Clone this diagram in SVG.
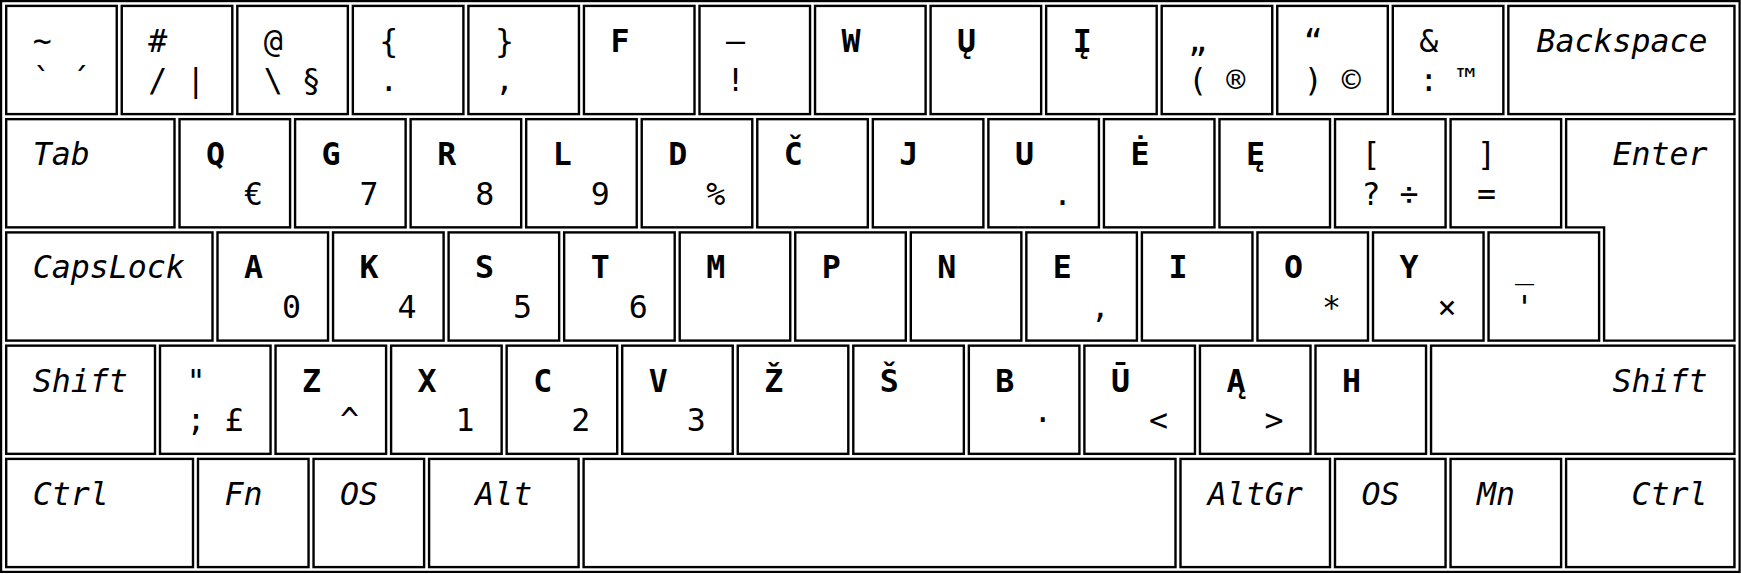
<svg xmlns="http://www.w3.org/2000/svg" width="1741" height="574" viewBox="0 0 1741 574">
<style>
.k{fill:#fff;stroke:#000;stroke-width:2.4}
.f{fill:none;stroke:#000;stroke-width:2.2}
text{font-family:"DejaVu Sans Mono","Liberation Mono",monospace;font-size:31.6px;fill:#000}
.b{font-weight:bold}
.i{font-style:italic}
.e{text-anchor:end}
.m{text-anchor:middle}
</style>
<rect width="1741" height="574" fill="#fff"/>
<rect class="f" x="1.1" y="1.1" width="1738.5" height="570.8"/>
<g id="row1">
<g id="k-tilde"><rect class="k" x="6.2" y="5.9" width="110.55" height="108.2"/><text x="32.7" y="51.9">~</text><text x="32.7" y="91.4">`</text><text x="70.7" y="91.4">´</text></g>
<g id="k-hash"><rect class="k" x="121.75" y="5.9" width="110.55" height="108.2"/><text x="148.25" y="51.9">#</text><text x="148.25" y="91.4">/</text><text x="186.25" y="91.4">|</text></g>
<g id="k-at"><rect class="k" x="237.3" y="5.9" width="110.55" height="108.2"/><text x="263.8" y="51.9">@</text><text x="263.8" y="91.4">\</text><text x="301.8" y="91.4">§</text></g>
<g id="k-lbrace"><rect class="k" x="352.85" y="5.9" width="110.55" height="108.2"/><text x="379.35" y="51.9">{</text><text x="379.35" y="91.4">.</text></g>
<g id="k-rbrace"><rect class="k" x="468.4" y="5.9" width="110.55" height="108.2"/><text x="494.9" y="51.9">}</text><text x="494.9" y="91.4">,</text></g>
<g id="k-F"><rect class="k" x="583.95" y="5.9" width="110.55" height="108.2"/><text class="b" x="610.45" y="51.9">F</text></g>
<g id="k-dash"><rect class="k" x="699.5" y="5.9" width="110.55" height="108.2"/><text x="726" y="51.9">–</text><text x="726" y="91.4">!</text></g>
<g id="k-W"><rect class="k" x="815.05" y="5.9" width="110.55" height="108.2"/><text class="b" x="841.55" y="51.9">W</text></g>
<g id="k-U-ogonek"><rect class="k" x="930.6" y="5.9" width="110.55" height="108.2"/><text class="b" x="957.1" y="51.9">Ų</text></g>
<g id="k-I-ogonek"><rect class="k" x="1046.15" y="5.9" width="110.55" height="108.2"/><text class="b" x="1072.65" y="51.9">Į</text></g>
<g id="k-lquote"><rect class="k" x="1161.7" y="5.9" width="110.55" height="108.2"/><text x="1188.2" y="51.9">„</text><text x="1188.2" y="91.4">(</text><text x="1226.2" y="91.4">®</text></g>
<g id="k-rquote"><rect class="k" x="1277.25" y="5.9" width="110.55" height="108.2"/><text x="1303.75" y="51.9">“</text><text x="1303.75" y="91.4">)</text><text x="1341.75" y="91.4">©</text></g>
<g id="k-amp"><rect class="k" x="1392.8" y="5.9" width="110.55" height="108.2"/><text x="1419.3" y="51.9">&amp;</text><text x="1419.3" y="91.4">:</text><text x="1457.3" y="91.4">™</text></g>
<g id="k-backspace"><rect class="k" x="1508.35" y="5.9" width="226.1" height="108.2"/><text class="i e" x="1707.6" y="51.9">Backspace</text></g>
</g>
<g id="row2">
<g id="k-tab"><rect class="k" x="6.2" y="119.15" width="168.3" height="108.2"/><text class="i" x="32.7" y="165.15">Tab</text></g>
<g id="k-Q"><rect class="k" x="179.53" y="119.15" width="110.55" height="108.2"/><text class="b" x="206.03" y="165.15">Q</text><text x="244.03" y="204.65">€</text></g>
<g id="k-G"><rect class="k" x="295.08" y="119.15" width="110.55" height="108.2"/><text class="b" x="321.58" y="165.15">G</text><text x="359.58" y="204.65">7</text></g>
<g id="k-R"><rect class="k" x="410.63" y="119.15" width="110.55" height="108.2"/><text class="b" x="437.13" y="165.15">R</text><text x="475.13" y="204.65">8</text></g>
<g id="k-L"><rect class="k" x="526.18" y="119.15" width="110.55" height="108.2"/><text class="b" x="552.68" y="165.15">L</text><text x="590.68" y="204.65">9</text></g>
<g id="k-D"><rect class="k" x="641.73" y="119.15" width="110.55" height="108.2"/><text class="b" x="668.23" y="165.15">D</text><text x="706.23" y="204.65">%</text></g>
<g id="k-C-caron"><rect class="k" x="757.28" y="119.15" width="110.55" height="108.2"/><text class="b" x="783.78" y="165.15">Č</text></g>
<g id="k-J"><rect class="k" x="872.83" y="119.15" width="110.55" height="108.2"/><text class="b" x="899.33" y="165.15">J</text></g>
<g id="k-U"><rect class="k" x="988.38" y="119.15" width="110.55" height="108.2"/><text class="b" x="1014.88" y="165.15">U</text><text x="1052.88" y="204.65">.</text></g>
<g id="k-E-dot"><rect class="k" x="1103.93" y="119.15" width="110.55" height="108.2"/><text class="b" x="1130.43" y="165.15">Ė</text></g>
<g id="k-E-ogonek"><rect class="k" x="1219.48" y="119.15" width="110.55" height="108.2"/><text class="b" x="1245.98" y="165.15">Ę</text></g>
<g id="k-lbracket"><rect class="k" x="1335.03" y="119.15" width="110.55" height="108.2"/><text x="1361.53" y="165.15">[</text><text x="1361.53" y="204.65">?</text><text x="1399.53" y="204.65">÷</text></g>
<g id="k-rbracket"><rect class="k" x="1450.58" y="119.15" width="110.55" height="108.2"/><text x="1477.08" y="165.15">]</text><text x="1477.08" y="204.65">=</text></g>
<g id="k-enter"><path class="k" d="M1566.13,119.15 H1734.45 V340.6 H1604.1 V227.35 H1566.13 Z"/><text class="i e" x="1707.6" y="165.15">Enter</text></g>
</g>
<g id="row3">
<g id="k-caps"><rect class="k" x="6.2" y="232.4" width="206.3" height="108.2"/><text class="i" x="32.7" y="278.4">CapsLock</text></g>
<g id="k-A"><rect class="k" x="217.5" y="232.4" width="110.55" height="108.2"/><text class="b" x="244" y="278.4">A</text><text x="282" y="317.9">0</text></g>
<g id="k-K"><rect class="k" x="333.05" y="232.4" width="110.55" height="108.2"/><text class="b" x="359.55" y="278.4">K</text><text x="397.55" y="317.9">4</text></g>
<g id="k-S"><rect class="k" x="448.6" y="232.4" width="110.55" height="108.2"/><text class="b" x="475.1" y="278.4">S</text><text x="513.1" y="317.9">5</text></g>
<g id="k-T"><rect class="k" x="564.15" y="232.4" width="110.55" height="108.2"/><text class="b" x="590.65" y="278.4">T</text><text x="628.65" y="317.9">6</text></g>
<g id="k-M"><rect class="k" x="679.7" y="232.4" width="110.55" height="108.2"/><text class="b" x="706.2" y="278.4">M</text></g>
<g id="k-P"><rect class="k" x="795.25" y="232.4" width="110.55" height="108.2"/><text class="b" x="821.75" y="278.4">P</text></g>
<g id="k-N"><rect class="k" x="910.8" y="232.4" width="110.55" height="108.2"/><text class="b" x="937.3" y="278.4">N</text></g>
<g id="k-E"><rect class="k" x="1026.35" y="232.4" width="110.55" height="108.2"/><text class="b" x="1052.85" y="278.4">E</text><text x="1090.85" y="317.9">,</text></g>
<g id="k-I"><rect class="k" x="1141.9" y="232.4" width="110.55" height="108.2"/><text class="b" x="1168.4" y="278.4">I</text></g>
<g id="k-O"><rect class="k" x="1257.45" y="232.4" width="110.55" height="108.2"/><text class="b" x="1283.95" y="278.4">O</text><text x="1321.95" y="317.9">*</text></g>
<g id="k-Y"><rect class="k" x="1373" y="232.4" width="110.55" height="108.2"/><text class="b" x="1399.5" y="278.4">Y</text><text x="1437.5" y="317.9">×</text></g>
<g id="k-underscore"><rect class="k" x="1488.55" y="232.4" width="110.55" height="108.2"/><text x="1515.05" y="278.4">_</text><text x="1515.05" y="317.9">'</text></g>
</g>
<g id="row4">
<g id="k-lshift"><rect class="k" x="6.2" y="345.65" width="148.8" height="108.2"/><text class="i" x="32.7" y="391.65">Shift</text></g>
<g id="k-dquote"><rect class="k" x="160" y="345.65" width="110.55" height="108.2"/><text x="186.5" y="391.65">"</text><text x="186.5" y="431.15">;</text><text x="224.5" y="431.15">£</text></g>
<g id="k-Z"><rect class="k" x="275.55" y="345.65" width="110.55" height="108.2"/><text class="b" x="302.05" y="391.65">Z</text><text x="340.05" y="431.15">^</text></g>
<g id="k-X"><rect class="k" x="391.1" y="345.65" width="110.55" height="108.2"/><text class="b" x="417.6" y="391.65">X</text><text x="455.6" y="431.15">1</text></g>
<g id="k-C"><rect class="k" x="506.65" y="345.65" width="110.55" height="108.2"/><text class="b" x="533.15" y="391.65">C</text><text x="571.15" y="431.15">2</text></g>
<g id="k-V"><rect class="k" x="622.2" y="345.65" width="110.55" height="108.2"/><text class="b" x="648.7" y="391.65">V</text><text x="686.7" y="431.15">3</text></g>
<g id="k-Z-caron"><rect class="k" x="737.75" y="345.65" width="110.55" height="108.2"/><text class="b" x="764.25" y="391.65">Ž</text></g>
<g id="k-S-caron"><rect class="k" x="853.3" y="345.65" width="110.55" height="108.2"/><text class="b" x="879.8" y="391.65">Š</text></g>
<g id="k-B"><rect class="k" x="968.85" y="345.65" width="110.55" height="108.2"/><text class="b" x="995.35" y="391.65">B</text><text x="1033.35" y="431.15">·</text></g>
<g id="k-U-macron"><rect class="k" x="1084.4" y="345.65" width="110.55" height="108.2"/><text class="b" x="1110.9" y="391.65">Ū</text><text x="1148.9" y="431.15">&lt;</text></g>
<g id="k-A-ogonek"><rect class="k" x="1199.95" y="345.65" width="110.55" height="108.2"/><text class="b" x="1226.45" y="391.65">Ą</text><text x="1264.45" y="431.15">&gt;</text></g>
<g id="k-H"><rect class="k" x="1315.5" y="345.65" width="110.55" height="108.2"/><text class="b" x="1342" y="391.65">H</text></g>
<g id="k-rshift"><rect class="k" x="1431.05" y="345.65" width="303.4" height="108.2"/><text class="i e" x="1707.6" y="391.65">Shift</text></g>
</g>
<g id="row5">
<g id="k-lctrl"><rect class="k" x="6.2" y="458.9" width="186.8" height="108.2"/><text class="i" x="32.7" y="504.9">Ctrl</text></g>
<g id="k-fn"><rect class="k" x="198" y="458.9" width="110.55" height="108.2"/><text class="i" x="224.5" y="504.9">Fn</text></g>
<g id="k-los"><rect class="k" x="313.55" y="458.9" width="110.55" height="108.2"/><text class="i" x="340.05" y="504.9">OS</text></g>
<g id="k-alt"><rect class="k" x="429.1" y="458.9" width="149.5" height="108.2"/><text class="i m" x="503.85" y="504.9">Alt</text></g>
<g id="k-space"><rect class="k" x="583.6" y="458.9" width="591.9" height="108.2"/></g>
<g id="k-altgr"><rect class="k" x="1180.5" y="458.9" width="149.5" height="108.2"/><text class="i m" x="1255.25" y="504.9">AltGr</text></g>
<g id="k-ros"><rect class="k" x="1335" y="458.9" width="110.55" height="108.2"/><text class="i" x="1361.5" y="504.9">OS</text></g>
<g id="k-mn"><rect class="k" x="1450.55" y="458.9" width="110.55" height="108.2"/><text class="i" x="1477.05" y="504.9">Mn</text></g>
<g id="k-rctrl"><rect class="k" x="1566.1" y="458.9" width="168.35" height="108.2"/><text class="i e" x="1707.6" y="504.9">Ctrl</text></g>
</g>
</svg>
